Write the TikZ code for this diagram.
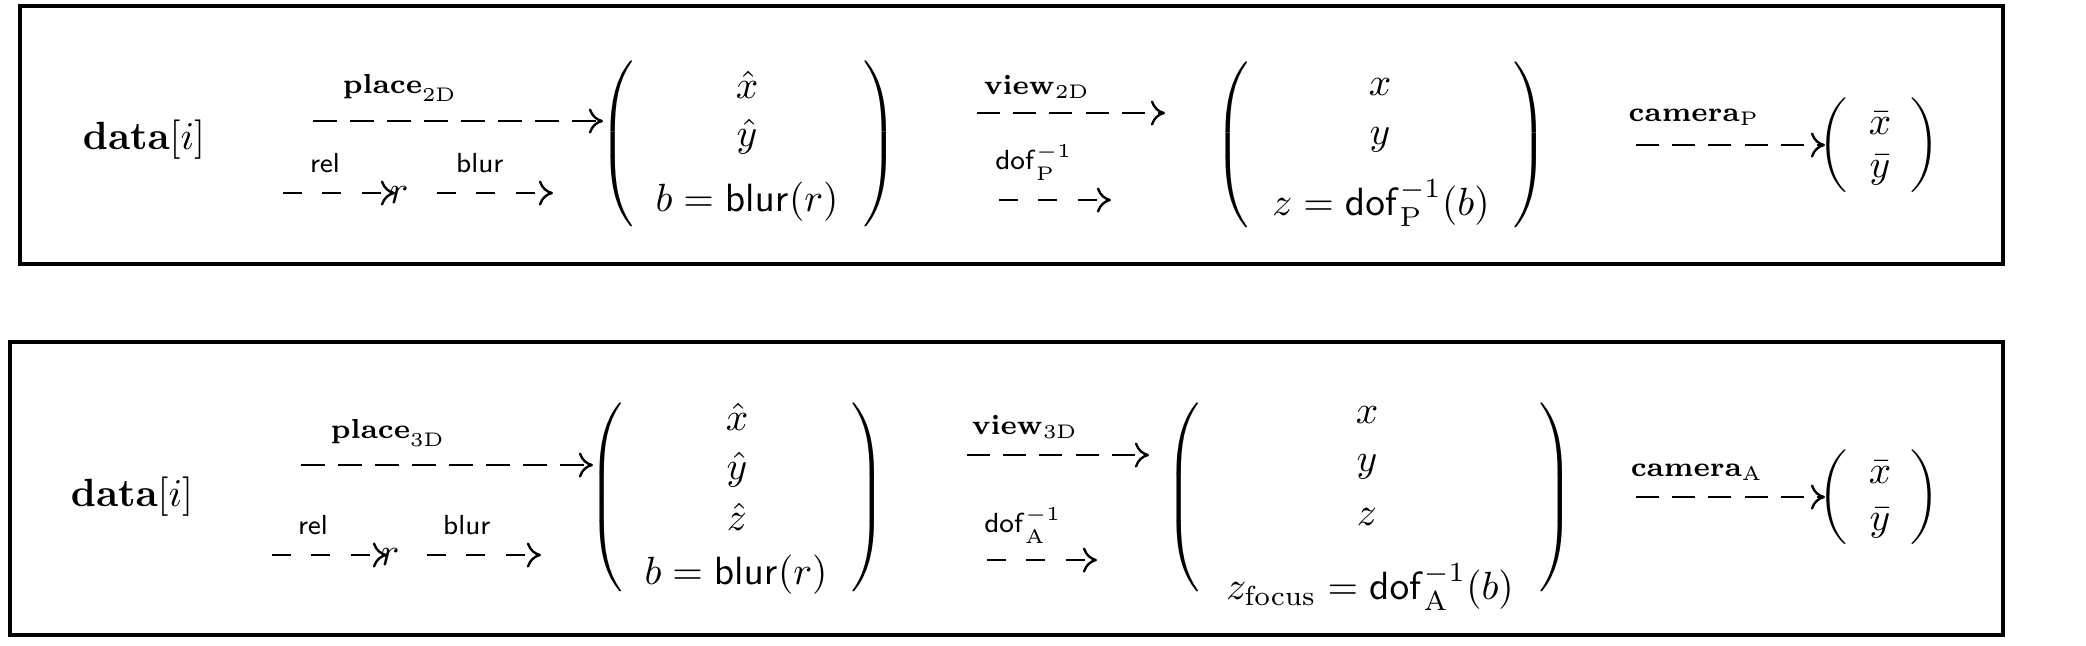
\documentclass[tikz,border=0pt]{standalone}
\usetikzlibrary{arrows.meta}
\newcommand{\tallparenL}[1]{$\left(\vcenter{\hrule height #1 width 0pt}\right.$}
\newcommand{\tallparenR}[1]{$\left.\vcenter{\hrule height #1 width 0pt}\right)$}
\tikzset{
  lbl/.style={inner sep=0pt},
  ent/.style={inner sep=0pt},
  paren/.style={inner sep=0pt},
  darrow/.style={line width=0.6pt, -{To[length=3.6pt,width=6.4pt]}},
  longdash/.style={dash pattern=on 6pt off 3.4pt},
  meddash/.style={dash pattern=on 5.8pt off 3.4pt},
  shortdash/.style={dash pattern=on 4.8pt off 5.2pt},
  frame/.style={line width=0.8pt}
}
\begin{document}
\begin{tikzpicture}[x=0.254pt,y=-0.254pt]
\useasboundingbox (0,0) rectangle (2086,645);
% ---------------- top row ----------------
\draw[frame] (20,6) rectangle (2003,264);
\node[ent] (d1) at (144,140) {$\mathbf{data}[i]$};
\node[lbl] (pl1) at (400,88) {$\scriptstyle\mathbf{place}_{\mathrm{2D}}$};
\node[lbl] (rel1) at (325,163) {$\scriptstyle\mathsf{rel}$};
\node[lbl] (bl1) at (480,163) {$\scriptstyle\mathsf{blur}$};
\node[ent] (r1) at (399,195) {$r$};
\node[paren] (lpa1) at (619,144) {\tallparenL{43.7pt}};
\node[ent] (a11) at (747,85) {$\hat{x}$};
\node[ent] (a12) at (747,137) {$\hat{y}$};
\node[ent] (a13) at (747,202) {$b = \mathsf{blur}(r)$};
\node[paren] (rpa1) at (878,144) {\tallparenR{43.7pt}};
\node[lbl] (vw1) at (1037,87) {$\scriptstyle\mathbf{view}_{\mathrm{2D}}$};
\node[lbl] (df1) at (1034,162) {$\scriptstyle\mathsf{dof}_{\mathrm{P}}^{-1}$};
\node[paren] (lpb1) at (1234,145) {\tallparenL{43.7pt}};
\node[ent] (b11) at (1380,87) {$x$};
\node[ent] (b12) at (1380,140) {$y$};
\node[ent] (b13) at (1381,203) {$z = \mathsf{dof}_{\mathrm{P}}^{-1}(b)$};
\node[paren] (rpb1) at (1528,145) {\tallparenR{43.7pt}};
\node[lbl] (cm1) at (1694,117) {$\scriptstyle\mathbf{camera}_{\mathrm{P}}$};
\node[paren] (lpc1) at (1835,145) {\tallparenL{24.4pt}};
\node[ent] (c11) at (1880,123) {$\bar{x}$};
\node[ent] (c12) at (1880,170) {$\bar{y}$};
\node[paren] (rpc1) at (1923,145) {\tallparenR{24.4pt}};
\coordinate (p1s) at (313,121);  \coordinate (p1e) at (603,121);
\coordinate (r1s) at (283,193);  \coordinate (r1e) at (395,193);
\coordinate (b1s) at (437,193);  \coordinate (b1e) at (553,193);
\coordinate (v1s) at (977,113);  \coordinate (v1e) at (1165,113);
\coordinate (f1s) at (999,200);  \coordinate (f1e) at (1111,200);
\coordinate (c1s) at (1636,145); \coordinate (c1e) at (1825,145);
\draw[darrow,longdash] (p1s) -- (p1e);
\draw[darrow,shortdash] (r1s) -- (r1e);
\draw[darrow,shortdash] (b1s) -- (b1e);
\draw[darrow,meddash] (v1s) -- (v1e);
\draw[darrow,shortdash] (f1s) -- (f1e);
\draw[darrow,meddash] (c1s) -- (c1e);
% ---------------- bottom row ----------------
\draw[frame] (10,342) rectangle (2003,635);
\node[ent] (d2) at (132,497) {$\mathbf{data}[i]$};
\node[lbl] (pl2) at (388,433) {$\scriptstyle\mathbf{place}_{\mathrm{3D}}$};
\node[lbl] (rel2) at (313,525) {$\scriptstyle\mathsf{rel}$};
\node[lbl] (bl2) at (467,525) {$\scriptstyle\mathsf{blur}$};
\node[ent] (r2) at (390,557) {$r$};
\node[paren] (lpa2) at (608,497) {\tallparenL{50.5pt}};
\node[ent] (a21) at (737,417) {$\hat{x}$};
\node[ent] (a22) at (737,470) {$\hat{y}$};
\node[ent] (a23) at (737,517) {$\hat{z}$};
\node[ent] (a24) at (736,575) {$b = \mathsf{blur}(r)$};
\node[paren] (rpa2) at (866,497) {\tallparenR{50.5pt}};
\node[lbl] (vw2) at (1025,427) {$\scriptstyle\mathbf{view}_{\mathrm{3D}}$};
\node[lbl] (df2) at (1023,525) {$\scriptstyle\mathsf{dof}_{\mathrm{A}}^{-1}$};
\node[paren] (lpb2) at (1185,497) {\tallparenL{50.5pt}};
\node[ent] (b21) at (1367,415) {$x$};
\node[ent] (b22) at (1367,467) {$y$};
\node[ent] (b23) at (1367,517) {$z$};
\node[ent] (b24) at (1370,587) {$z_{\mathrm{focus}} = \mathsf{dof}_{\mathrm{A}}^{-1}(b)$};
\node[paren] (rpb2) at (1554,497) {\tallparenR{50.5pt}};
\node[lbl] (cm2) at (1697,472) {$\scriptstyle\mathbf{camera}_{\mathrm{A}}$};
\node[paren] (lpc2) at (1835,497) {\tallparenL{25pt}};
\node[ent] (c21) at (1880,472) {$\bar{x}$};
\node[ent] (c22) at (1880,523) {$\bar{y}$};
\node[paren] (rpc2) at (1923,497) {\tallparenR{25pt}};
\coordinate (p2s) at (301,465);  \coordinate (p2e) at (593,465);
\coordinate (r2s) at (272,555);  \coordinate (r2e) at (387,555);
\coordinate (b2s) at (427,555);  \coordinate (b2e) at (541,555);
\coordinate (v2s) at (967,455);  \coordinate (v2e) at (1149,455);
\coordinate (f2s) at (987,560);  \coordinate (f2e) at (1097,560);
\coordinate (c2s) at (1636,497); \coordinate (c2e) at (1825,497);
\draw[darrow,longdash] (p2s) -- (p2e);
\draw[darrow,shortdash] (r2s) -- (r2e);
\draw[darrow,shortdash] (b2s) -- (b2e);
\draw[darrow,meddash] (v2s) -- (v2e);
\draw[darrow,shortdash] (f2s) -- (f2e);
\draw[darrow,meddash] (c2s) -- (c2e);
\end{tikzpicture}
\end{document}
